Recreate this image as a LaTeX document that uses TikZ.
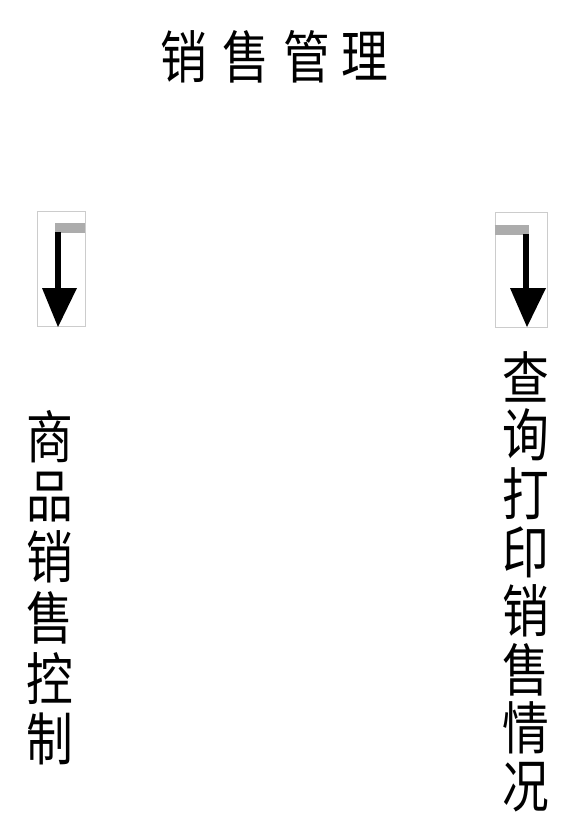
\documentclass[tikz,border=0pt]{standalone}
\usepackage{fontspec}
\newfontfamily\cjk{Noto Sans CJK SC}[FakeStretch=0.82]
\tikzset{
  boxframe/.style={draw=gray!40, line width=0.8pt, minimum width=48pt, minimum height=115pt, inner sep=0pt},
  grayline/.style={draw=gray!65, line width=10pt},
  blackline/.style={draw=black, line width=6pt},
  headfill/.style={fill=black},
  cjkchar/.style={font=\cjk\fontsize{57}{60}\selectfont, inner sep=0pt, anchor=center},
}
\begin{document}
\begin{tikzpicture}[x=1pt,y=-1pt]
\useasboundingbox (0,0) rectangle (560,829);
% title
\foreach \c/\xx [count=\i] in {销/184,售/246,管/307,理/365}
  \node[cjkchar] (t\i) at (\xx,56.5) {\c};
% left arrow box
\node[boxframe] (lbox) at (61,268.5) {};
\coordinate (l1) at (85,228);
\coordinate (l2) at (57.5,228);
\coordinate (l3) at (57.5,292);
\draw[grayline] (lbox.east |- l1) -- ([xshift=-3pt]l2);
\draw[blackline] ([yshift=-4pt]l2) -- (l3);
\fill[headfill] (42,288) -- (77,288) -- (58,327) -- cycle;
% right arrow box
\node[boxframe, minimum width=52pt] (rbox) at (521,269.5) {};
\coordinate (r1) at (526,230);
\coordinate (r3) at (526,292);
\draw[grayline] (rbox.west |- r1) -- ([xshift=3pt]r1);
\draw[blackline] ([yshift=-4pt]r1) -- (r3);
\fill[headfill] (510,288) -- (546,288) -- (527,327) -- cycle;
% vertical labels
\foreach \c [count=\i] in {商,品,销,售,控,制}
  \node[cjkchar] (lt\i) at (50,{436.5+60.4*(\i-1)}) {\c};
\foreach \c [count=\i] in {查,询,打,印,销,售,情,况}
  \node[cjkchar] (rt\i) at (526,{376.5+58.6*(\i-1)}) {\c};
\end{tikzpicture}
\end{document}
